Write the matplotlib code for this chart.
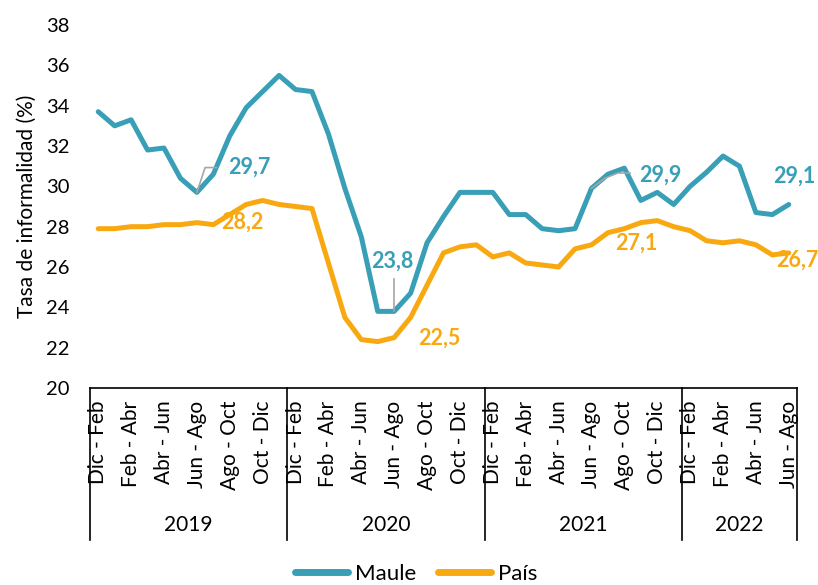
import matplotlib
matplotlib.use("Agg")
import matplotlib.pyplot as plt
import matplotlib.transforms as mtransforms
from matplotlib.lines import Line2D

plt.rcParams['font.family'] = ['Lato', 'DejaVu Sans']

# ---- data ----
years = ['2019', '2020', '2021', '2022']
periods = ['Dic - Feb', 'Ene - Mar', 'Feb - Abr', 'Mar - May', 'Abr - Jun', 'May - Jul',
           'Jun - Ago', 'Jul - Sep', 'Ago - Oct', 'Sep - Nov', 'Oct - Dic', 'Nov - Ene']
periods_per_year = [12, 12, 12, 7]

maule = [33.7, 33.0, 33.3, 31.8, 31.9, 30.4, 29.7, 30.6, 32.5, 33.9, 34.7, 35.5,
         34.8, 34.7, 32.6, 29.9, 27.5, 23.8, 23.8, 24.7, 27.2, 28.5, 29.7, 29.7,
         29.7, 28.6, 28.6, 27.9, 27.8, 27.9, 29.9, 30.6, 30.9, 29.3, 29.7, 29.1,
         30.0, 30.7, 31.5, 31.0, 28.7, 28.6, 29.1]
pais = [27.9, 27.9, 28.0, 28.0, 28.1, 28.1, 28.2, 28.1, 28.6, 29.1, 29.3, 29.1,
        29.0, 28.9, 26.2, 23.5, 22.4, 22.3, 22.5, 23.5, 25.1, 26.7, 27.0, 27.1,
        26.5, 26.7, 26.2, 26.1, 26.0, 26.9, 27.1, 27.7, 27.9, 28.2, 28.3, 28.0,
        27.8, 27.3, 27.2, 27.3, 27.1, 26.6, 26.7]

series_names = ['Maule', 'País']
colors = ['#389FB6', '#F8A912']

# labelled points: (series index, point index, text)
labels = [
    (0, 6, '29,7'), (0, 18, '23,8'), (0, 30, '29,9'), (0, 42, '29,1'),
    (1, 6, '28,2'), (1, 18, '22,5'), (1, 30, '27,1'), (1, 42, '26,7'),
]

# ---- build categories ----
cats = []
for y, n in zip(years, periods_per_year):
    cats.extend(periods[:n])
x = list(range(len(cats)))

W, H = 818, 585
fig = plt.figure(figsize=(W / 100, H / 100), dpi=100)
ax = fig.add_axes([90 / W, (H - 388) / H, 707 / W, 363 / H])

lines = []
for vals, name, c in zip([maule, pais], series_names, colors):
    ln, = ax.plot(x, vals, color=c, lw=3.6, solid_joinstyle='round',
                  solid_capstyle='round', label=name, zorder=3)
    lines.append(ln)

ax.set_xlim(-0.5, len(cats) - 0.5)
ax.set_ylim(20, 38)
ax.set_yticks(range(20, 39, 2))
ax.tick_params(axis='y', length=0, pad=15, labelsize=14.5)
ax.set_xticks(x[::2])
ax.set_xticklabels(cats[::2], rotation=90, fontsize=15, va='top', ha='center')
ax.tick_params(axis='x', length=0, pad=9)
for s in ['left', 'top', 'right']:
    ax.spines[s].set_visible(False)
ax.spines['bottom'].set_linewidth(1.2)
ax.set_ylabel('Tasa de informalidad (%)', fontsize=15, labelpad=6)

# year dividers and labels
trans = mtransforms.blended_transform_factory(ax.transData, ax.transAxes)
ylow = -(540 - 388) / 363
bounds = [-0.5]
for n in periods_per_year:
    bounds.append(bounds[-1] + n)
for b in bounds:
    ax.add_line(Line2D([b, b], [0, ylow], transform=trans, color='black',
                       lw=1.2, clip_on=False))
for i, y in enumerate(years):
    cx = (bounds[i] + bounds[i + 1]) / 2
    ax.text(cx, -(525 - 388) / 363, y, transform=trans, ha='center', va='center',
            fontsize=15)

# data labels
label_pos = {
    (0, 6): (7.9, 30.93, 'left'),
    (0, 18): (17.9, 26.3, 'center'),
    (0, 30): (32.9, 30.56, 'left'),
    (0, 42): (41.06, 30.5, 'left'),
    (1, 6): (7.5, 28.2, 'left'),
    (1, 18): (19.45, 22.48, 'left'),
    (1, 30): (31.43, 27.19, 'left'),
    (1, 42): (41.26, 26.35, 'left'),
}
for si, pi, txt in labels:
    lx, ly, ha = label_pos[(si, pi)]
    ax.text(lx, ly, txt, color=colors[si], fontsize=15.5, fontweight='bold',
            ha=ha, va='center', zorder=5, clip_on=False)

# leader lines
lc = '#A6A6A6'
ax.plot([6, 6.5, 7.2], [maule[6], 30.93, 30.93], color=lc, lw=1.2, zorder=4)
ax.plot([18, 18], [maule[18], 25.4], color=lc, lw=1.2, zorder=4)
ax.plot([30, 30.8, 31.6, 32.35], [maule[30], 30.4, 30.66, 30.66], color=lc, lw=1.2, zorder=4)

leg = fig.legend(handles=lines, labels=series_names, loc='center',
                 bbox_to_anchor=(416 / W, 1 - 574 / H), ncol=2, frameon=False,
                 fontsize=16, handlelength=2.4, handletextpad=0.3,
                 columnspacing=1.0)
for h in leg.get_lines():
    h.set_linewidth(5)
    h.set_solid_capstyle('round')

fig.savefig('out.png', dpi=100)
